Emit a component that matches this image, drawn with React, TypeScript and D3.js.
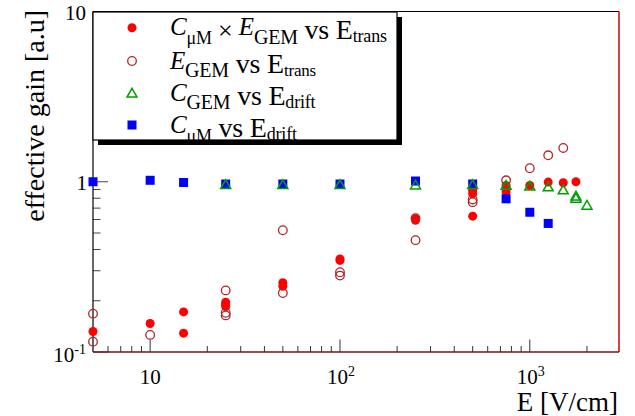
import React from 'react'
import * as d3 from 'd3'

// C_uM x E_GEM vs E_trans (filled red circles)
const prodE = [5, 10, 15, 15, 25, 25, 25, 50, 50, 100, 100, 250, 250, 500, 500, 500, 750, 750, 1000, 1250, 1500, 1750]
const prodGain = [0.132, 0.147, 0.172, 0.129, 0.196, 0.19, 0.185, 0.255, 0.243, 0.352, 0.345, 0.605, 0.594, 0.89, 0.85, 0.628, 0.95, 0.873, 0.95, 0.995, 0.987, 1.0]

// E_GEM vs E_trans (open red circles)
const egemE = [5, 5, 10, 25, 25, 25, 50, 50, 100, 100, 250, 250, 500, 500, 750, 1000, 1250, 1500]
const egemGain = [0.168, 0.115, 0.126, 0.23, 0.17, 0.164, 0.519, 0.222, 0.294, 0.281, 0.61, 0.454, 0.787, 0.759, 1.02, 1.2, 1.43, 1.58]

// C_GEM vs E_drift (open green triangles)
const cgemE = [25, 50, 100, 250, 500, 750, 1000, 1250, 1500, 1750, 1750, 2000]
const cgemGain = [0.96, 0.96, 0.96, 0.955, 0.96, 0.95, 0.94, 0.93, 0.893, 0.822, 0.798, 0.726]

// C_uM vs E_drift (blue squares)
const cumE = [5, 10, 15, 25, 50, 100, 250, 500, 750, 1000, 1250]
const cumGain = [1.0, 1.02, 0.99, 0.97, 0.97, 0.97, 1.01, 0.97, 0.794, 0.662, 0.569]

const xMajor = [10, 100, 1000]
const xMajorExp = ['', '2', '3']
const yMajor = [0.1, 1, 10]

const FONT = "'Liberation Serif', 'Times New Roman', serif"
const RED = '#ff0000'
const DARKRED = '#b0252a'
const GREEN = '#00a000'
const BLUE = '#0000ff'

const W = 635, H = 416
const left = 93, right = 619, top = 11.5, bottom = 352

const x = d3.scaleLog().domain([5, 2950]).range([left, right])
const y = d3.scaleLog().domain([0.1, 10]).range([bottom, top])

const zip = (a: number[], b: number[]) => a.map((v, i) => [v, b[i]])

// legend text segments: [text, size, italic, shift]
type Seg = [string, number, boolean, number]
const legendRows: Seg[][] = [
  [['C', 25, true, -4], ['μM', 18, false, 5], [' × ', 26, false, 0], ['E', 25, true, -4], ['GEM', 20, false, 4.5], [' vs E', 28, false, 0], ['trans', 18, false, 3]],
  [['E', 25, true, -4], ['GEM', 20, false, 4.5], [' vs E', 28, false, 0], ['trans', 17, false, 3]],
  [['C', 25, true, -4], ['GEM', 20, false, 4.5], [' vs E', 28, false, 0], ['drift', 18, false, 3]],
  [['C', 25, true, -4], ['μM', 18, false, 5], [' vs E', 28, false, 0], ['drift', 18, false, 3]],
]

function Marker({ kind, cx, cy }: { kind: number, cx: number, cy: number }) {
  if (kind === 0) return <circle cx={cx} cy={cy} r={4.5} fill={RED} />
  if (kind === 1) return <circle cx={cx} cy={cy} r={4.3} fill="none" stroke={DARKRED} strokeWidth={1.3} />
  if (kind === 2) {
    const s = 5
    return <path d={`M${cx},${cy - s}L${cx + s},${cy + s * 0.75}L${cx - s},${cy + s * 0.75}Z`} fill="none" stroke={GREEN} strokeWidth={1.5} />
  }
  return <rect x={cx - 4.5} y={cy - 4.5} width={9} height={9} fill={BLUE} />
}

function LegendText({ segs, x0, base }: { segs: Seg[], x0: number, base: number }) {
  let prev = 0
  return (
    <text x={x0} y={base} fontFamily={FONT} fill="#000" letterSpacing={-0.2}>
      {segs.map(([t, size, it, shift], i) => {
        const dy = shift - prev
        prev = shift
        return <tspan key={i} dy={dy} fontSize={size} fontStyle={it ? 'italic' : 'normal'} style={{ whiteSpace: 'pre' }}>{t}</tspan>
      })}
    </text>
  )
}

export default function App() {
  const xMinor: number[] = []
  for (const d of [1, 10, 100, 1000]) for (let k = 2; k <= 9; k++) {
    const v = d * k
    if (v > 5 && v < 2950 && !xMajor.includes(v)) xMinor.push(v)
  }
  const yMinor: number[] = []
  for (const d of [0.1, 1]) for (let k = 2; k <= 9; k++) yMinor.push(d * k)

  const series: [number, number[][]][] = [
    [0, zip(prodE, prodGain)],
    [1, zip(egemE, egemGain)],
    [3, zip(cumE, cumGain)],
    [2, zip(cgemE, cgemGain)],
  ]

  const legMarkerY = [27.7, 61, 93.3, 125]
  const legKinds = [0, 1, 2, 3]
  const lg = { x0: 93, y0: 12, x1: 397, y1: 140 }

  return (
    <svg width={W} height={H} style={{ position: 'absolute', left: 0, top: 0, background: '#fff' }}>
      <rect width={W} height={H} fill="#fff" />

      {/* ticks */}
      {yMinor.map(v => <line key={'ym' + v} x1={left} x2={left + 7.5} y1={y(v)} y2={y(v)} stroke="#444" strokeWidth={1} />)}
      {yMajor.map(v => <line key={'yM' + v} x1={left} x2={left + 15} y1={y(v)} y2={y(v)} stroke="#444" strokeWidth={1} />)}
      {xMinor.map(v => <line key={'xm' + v} x1={x(v)} x2={x(v)} y1={bottom} y2={bottom - 6} stroke="#333" strokeWidth={1} />)}
      {xMajor.map(v => <line key={'xM' + v} x1={x(v)} x2={x(v)} y1={bottom} y2={bottom - 12.5} stroke="#333" strokeWidth={1} />)}

      {/* frame */}
      <line x1={left} x2={right} y1={top} y2={top} stroke="#000" strokeWidth={1.2} />
      <line x1={left} x2={left} y1={top} y2={bottom} stroke="#000" strokeWidth={1.2} />
      <line x1={right} x2={right} y1={top} y2={bottom} stroke="#d00000" strokeWidth={1.5} />
      <line x1={left} x2={right} y1={bottom} y2={bottom} stroke="#7a1010" strokeWidth={1.5} />

      {/* data */}
      {series.map(([kind, pts]) => pts.map(([e, g], i) => (
        <Marker key={kind + '-' + i} kind={kind} cx={x(e)} cy={y(g)} />
      )))}

      {/* legend */}
      <rect x={lg.x0 + 5} y={lg.y0 + 5} width={lg.x1 - lg.x0} height={lg.y1 - lg.y0} fill="#000" />
      <rect x={lg.x0} y={lg.y0} width={lg.x1 - lg.x0} height={lg.y1 - lg.y0} fill="#fff" />
      <svg x={lg.x0} y={lg.y0} width={lg.x1 - lg.x0} height={lg.y1 - lg.y0} overflow="hidden">
        <g transform={`translate(${-lg.x0},${-lg.y0})`}>
          {legKinds.map((k, i) => <Marker key={'lm' + i} kind={k} cx={132} cy={legMarkerY[i]} />)}
          {legendRows.map((segs, i) => <LegendText key={'lt' + i} segs={segs} x0={170} base={legMarkerY[i] + 11.5} />)}
        </g>
      </svg>
      <rect x={lg.x0} y={lg.y0} width={lg.x1 - lg.x0} height={lg.y1 - lg.y0} fill="none" stroke="#000" strokeWidth={1.2} />
      <line x1={lg.x1 + 2} x2={lg.x1 + 2} y1={lg.y0 + 5} y2={lg.y1 + 4} stroke="#000" strokeWidth={4} />
      <line x1={lg.x0 + 5} x2={lg.x1 + 4} y1={lg.y1 + 2} y2={lg.y1 + 2} stroke="#000" strokeWidth={4} />

      {/* y tick labels */}
      <text x={86} y={y(10) + 8} fontFamily={FONT} fontSize={21} textAnchor="end">10</text>
      <text x={87} y={y(1) + 8} fontFamily={FONT} fontSize={21} textAnchor="end">1</text>
      <text x={86} y={y(0.1) + 10} fontFamily={FONT} fontSize={21} textAnchor="end">
        10<tspan dy={-8} fontSize={14}>-1</tspan>
      </text>

      {/* x tick labels */}
      {xMajor.map((v, i) => (
        <text key={'xl' + v} x={x(v) + (xMajorExp[i] ? 1 : 0)} y={384} fontFamily={FONT} fontSize={21} textAnchor="middle">
          10{xMajorExp[i] ? <tspan dy={-8} fontSize={14}>{xMajorExp[i]}</tspan> : null}
        </text>
      ))}

      {/* axis titles */}
      <text x={618} y={411} fontFamily={FONT} fontSize={27} textAnchor="end">E [V/cm]</text>
      <text transform="translate(44,10) rotate(-90)" fontFamily={FONT} fontSize={28} textAnchor="end">effective gain [a.u]</text>
    </svg>
  )
}
